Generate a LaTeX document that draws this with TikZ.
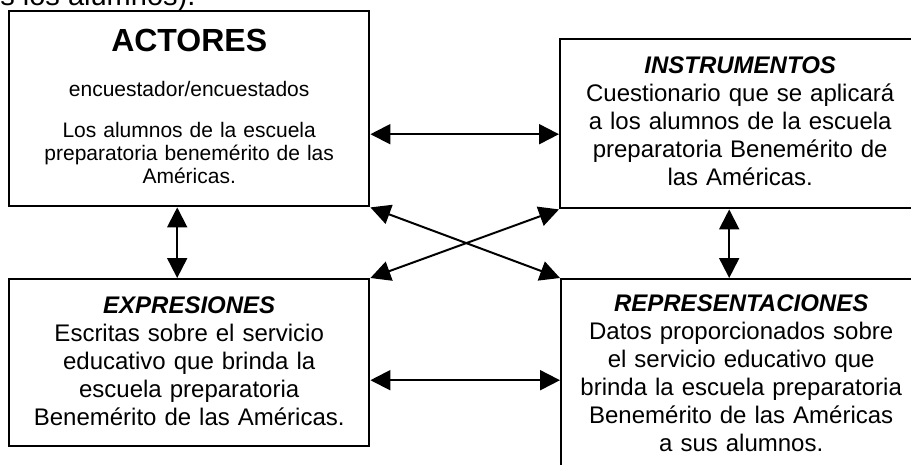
\documentclass[tikz,border=0pt]{standalone}
\usepackage{fontspec}
\setmainfont{Liberation Sans}
\usetikzlibrary{arrows.meta}

\begin{document}
\begin{tikzpicture}[x=0.5pt, y=-0.5pt,
    >={Triangle[length=10pt,width=10pt]},
    box/.style={rectangle, draw, line width=1.2pt, anchor=north west,
    inner sep=0pt, text width=180pt, align=center,
    font=\fontsize{12}{14}\selectfont},
    conn/.style={<->, line width=1pt}]

    \clip (0,0) rectangle (911,465);

    \node[anchor=base west, inner sep=0pt, font=\fontsize{14.5}{16}\selectfont] (resto) at (0,6) {s los alumnos).};

    \node[box, text height=20pt, text depth=77.5pt, font=\fontsize{10.5}{11.5}\selectfont] (actores) at (8,10)
        {{\fontsize{16}{18}\selectfont\bfseries ACTORES}\\[11pt]
        encuestador/encuestados\\[9pt]
        Los alumnos de la escuela\\
        preparatoria benemérito de las\\
        Américas.};
    \node[box, text height=17pt, text depth=67.5pt] (instrumentos) at (559,38)
        {\textbf{\textit{INSTRUMENTOS}}\\
        Cuestionario que se aplicará\\
        a los alumnos de la escuela\\
        preparatoria Benemérito de\\
        las Américas.};
    \node[box, text height=17pt, text depth=66.5pt] (expresiones) at (8,278)
        {\textbf{\textit{EXPRESIONES}}\\
        Escritas sobre el servicio\\
        educativo que brinda la\\
        escuela preparatoria\\
        Benemérito de las Américas.};
    \node[box, text height=16pt, text depth=85pt] (representaciones) at (560,278)
        {\textbf{\textit{REPRESENTACIONES}}\\
        Datos proporcionados sobre\\
        el servicio educativo que\\
        brinda la escuela preparatoria\\
        Benemérito de las Américas\\
        a sus alumnos.};

    % flechas dobles
    \draw[conn] ([yshift=-12.75pt]actores.east) -- ([yshift=-12.75pt]actores.east -| instrumentos.west);
    \draw[conn] ([yshift=-8.75pt]expresiones.east) -- ([yshift=-8.75pt]expresiones.east -| representaciones.west);
    \draw[conn] ([xshift=-6pt]actores.south) -- ([xshift=-6pt]actores.south |- expresiones.north);
    \draw[conn] ([xshift=-5.5pt]instrumentos.south) -- ([xshift=-5.5pt]instrumentos.south |- representaciones.north);
    \draw[conn] (actores.south east) -- (representaciones.north west);
    \draw[conn] (instrumentos.south west) -- (expresiones.north east);
\end{tikzpicture}
\end{document}
